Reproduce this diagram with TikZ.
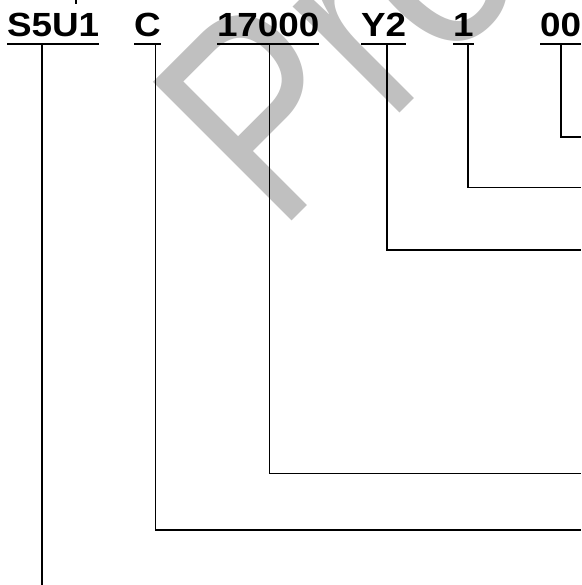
\documentclass[tikz,border=0pt]{standalone}
\usepackage{fontspec}
\setmainfont{Liberation Sans}
\usetikzlibrary{calc}
\definecolor{wmgray}{RGB}{192,192,192}
\tikzset{
  code/.style={inner sep=0pt, outer sep=0pt, anchor=base west,
    font=\fontsize{33.5}{40}\selectfont\bfseries},
  uline/.style={line width=2.3pt},
  conn/.style={line width=1.6pt, line join=miter},
  wmark/.style={inner sep=0pt, outer sep=0pt, anchor=base west, rotate=45,
    text=wmgray, font=\fontsize{285}{300}\selectfont}
}
\newcommand{\wide}[1]{\scalebox{1.1}[1]{#1}}
\newcommand{\narrowtext}[1]{\scalebox{0.82}[1]{#1}}
\begin{document}
\begin{tikzpicture}[x=1pt,y=-1pt]
\useasboundingbox (0,0) rectangle (581,585);
\fill[white] (0,0) rectangle (581,585);
% watermark
\node[wmark] (wm) at (278.4,234.6) {\narrowtext{Pro}};
% cut-off mark at top
\fill[black] (75,0) rectangle (77,4);
% codes
\node[code] (s) at (7,36.7)   {\wide{S5U1}};
\node[code] (c) at (134,36.7) {\wide{C}};
\node[code] (n) at (217,36.7) {\wide{17000}};
\node[code] (y) at (361,36.7) {\wide{Y2}};
\node[code] (o) at (453,36.7) {\wide{1}};
\node[code] (z) at (540,36.7) {\wide{00}};
% underlines
\foreach \k in {s,c,n,y,o,z}{
  \draw[uline] ($(\k.base west)+(0,7.1)$) -- ($(\k.base east)+(0,7.1)$);
}
% right-edge coordinates
\coordinate (eS) at (42,585);
\coordinate (eC) at (581,530);
\coordinate (eN) at (581,473.5);
\coordinate (eY) at (581,250);
\coordinate (eO) at (581,187.5);
\coordinate (eZ) at (581,137.3);
% connectors
\draw[conn] ($(s.base west)+(35,7.1)$) -- (eS);
\draw[conn] ($(c.base west)+(21.3,7.1)$) |- (eC);
\draw[conn] ($(n.base west)+(52.5,7.1)$) |- (eN);
\draw[conn] ($(y.base west)+(26,7.1)$) |- (eY);
\draw[conn] ($(o.base west)+(14.7,7.1)$) |- (eO);
\draw[conn] ($(z.base west)+(21,7.1)$) |- (eZ);
\end{tikzpicture}
\end{document}
